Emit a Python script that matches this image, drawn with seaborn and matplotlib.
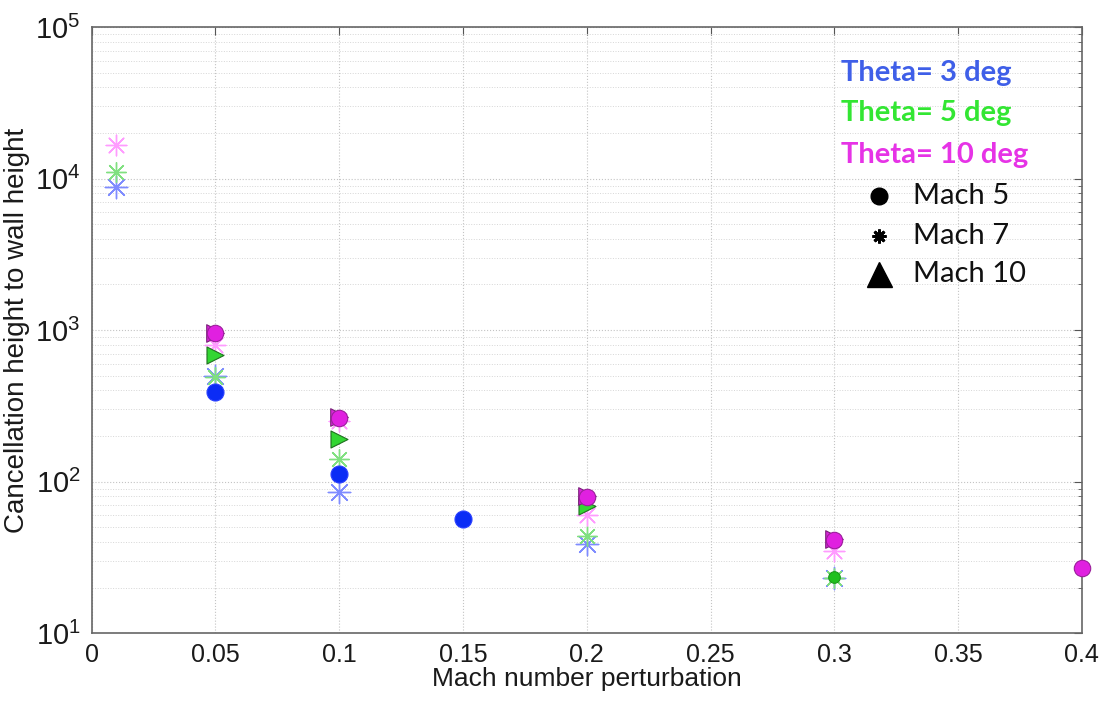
import numpy as np
import pandas as pd
import matplotlib
matplotlib.use('Agg')
import matplotlib.pyplot as plt
import matplotlib.ticker as mticker
from matplotlib.lines import Line2D
import seaborn as sns

# values (x = Mach number perturbation)
t3_m5_x = [0.05, 0.10, 0.15]
t3_m5_y = [390, 113, 57]
t3_m7_x = [0.01, 0.05, 0.10, 0.20, 0.30]
t3_m7_y = [8850, 500, 86, 39, 23]

t5_m5_x = [0.30]
t5_m5_y = [23.5]
t5_m7_x = [0.01, 0.05, 0.10, 0.20, 0.30]
t5_m7_y = [11100, 490, 142, 44, 23]
t5_m10_x = [0.05, 0.10, 0.20]
t5_m10_y = [680, 192, 69]

t10_m5_x = [0.05, 0.10, 0.20, 0.30, 0.40]
t10_m5_y = [960, 265, 79, 41, 26.8]
t10_m7_x = [0.01, 0.05, 0.10, 0.20, 0.30]
t10_m7_y = [16700, 800, 250, 60, 35]
t10_m10_x = [0.05, 0.10, 0.20, 0.30]
t10_m10_y = [950, 268, 80, 42]

theta_labels = ['Theta= 3 deg', 'Theta= 5 deg', 'Theta= 10 deg']
theta_colors = ['#3f5fe8', '#33e633', '#e633e6']
mach_labels = ['Mach 5', 'Mach 7', 'Mach 10']

sns.set_style('white')
plt.rcParams['font.family'] = ['Liberation Sans', 'DejaVu Sans']

fig, ax = plt.subplots(figsize=(11.05, 7.02), dpi=100)
fig.subplots_adjust(left=0.083, right=0.979, top=0.9615, bottom=0.098)

star = (8, 2, 0)

groups = [
    # x, y, marker, face, edge, size, lw
    (t3_m7_x, t3_m7_y, star, '#7f8cff', '#7f8cff', 260, 1.0),
    (t5_m7_x, t5_m7_y, star, '#80e080', '#80e080', 200, 1.0),
    (t10_m7_x, t10_m7_y, star, '#ff9cff', '#ff9cff', 220, 1.0),
    (t3_m5_x, t3_m5_y, 'o', '#0b2cf5', '#2a40ff', 150, 0.8),
    (t5_m5_x, t5_m5_y, 'o', '#1fc01f', '#1a9a1a', 70, 0.8),
    (t5_m10_x, t5_m10_y, '>', '#33d633', '#207020', 150, 0.8),
    (t10_m10_x, t10_m10_y, '>', '#d926d9', '#7a207a', 160, 0.8),
    (t10_m5_x, t10_m5_y, 'o', '#e020e0', '#9a209a', 140, 0.8),
]

for gx, gy, mk, fc, ec, s, lw in groups:
    df = pd.DataFrame({'x': gx, 'y': gy})
    if mk == star:
        sns.scatterplot(data=df, x='x', y='y', marker=mk, color=ec, s=s,
                        linewidth=lw, ax=ax, zorder=3, clip_on=False)
    else:
        sns.scatterplot(data=df, x='x', y='y', marker=mk, color=fc, s=s,
                        edgecolor=ec, linewidth=lw, ax=ax, zorder=4, clip_on=False)

ax.set_yscale('log')
ax.set_xlim(0, 0.4)
ax.set_ylim(10, 1e5)
ax.xaxis.set_major_locator(mticker.MultipleLocator(0.05))
ax.xaxis.set_major_formatter(mticker.FuncFormatter(lambda v, p: f'{v:g}'))
ax.yaxis.set_major_locator(mticker.LogLocator(base=10))
ax.yaxis.set_minor_locator(mticker.LogLocator(base=10, subs=np.arange(2, 10)))
ax.yaxis.set_minor_formatter(mticker.NullFormatter())

ax.grid(True, which='major', linestyle=':', color='#c4c4c4', linewidth=0.8)
ax.grid(True, which='minor', axis='y', linestyle=':', color='#d6d6d6', linewidth=0.7)
ax.tick_params(which='both', direction='in', top=True, right=True, color='#555555')
ax.tick_params(which='major', length=6)
ax.tick_params(which='minor', length=3)
ax.tick_params(axis='x', labelsize=18, pad=7, labelcolor='#1a1a1a')
ax.tick_params(axis='y', labelsize=21, pad=8, labelcolor='#1a1a1a')
for sp in ax.spines.values():
    sp.set_color('#666666')
    sp.set_linewidth(1.2)

ax.set_xlabel('Mach number perturbation', fontsize=19, labelpad=0, color='#1a1a1a')
ax.set_ylabel('Cancellation height to wall height', fontsize=20, labelpad=4,
              color='#1a1a1a')

# annotation "legend"
for i, (lab, col) in enumerate(zip(theta_labels, theta_colors)):
    ax.text(0.757, [0.924, 0.858, 0.789][i], lab, transform=ax.transAxes,
            color=col, fontsize=21, fontweight='bold', family=['Lato', 'DejaVu Sans'],
            va='center', ha='left')

legend_marks = ['o', star, '^']
legend_sizes = [12, 10, 18]
mach_y = [0.721, 0.655, 0.592]
for mk, ms, lab, yy in zip(legend_marks, legend_sizes, mach_labels, mach_y):
    ax.add_line(Line2D([0.795], [yy], marker=mk, markersize=ms, color='black',
                       markeredgewidth=2 if mk == star else 1,
                       transform=ax.transAxes, linestyle='none'))
    ax.text(0.830, yy, lab, transform=ax.transAxes, color='#111111', fontsize=21,
            family=['Lato', 'DejaVu Sans'], va='center', ha='left')

fig.savefig('out.png', dpi=100)
